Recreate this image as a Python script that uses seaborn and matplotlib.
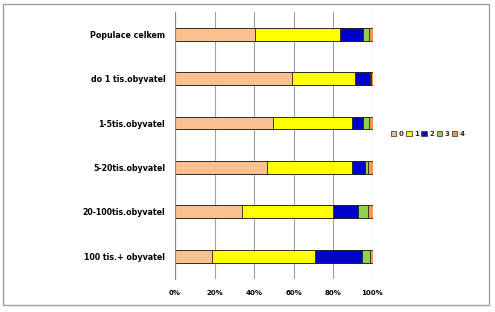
import matplotlib
matplotlib.use("Agg")
import matplotlib.pyplot as plt
import seaborn as sns
import pandas as pd
import numpy as np
from matplotlib.patches import Rectangle, Patch

categories = ["Populace celkem", "do 1 tis.obyvatel", "1-5tis.obyvatel",
              "5-20tis.obyvatel", "20-100tis.obyvatel", "100 tis.+ obyvatel"]
series_names = ["0", "1", "2", "3", "4"]
s0 = [40.7, 59.3, 49.8, 46.6, 34.0, 18.8]
s1 = [42.9, 31.6, 39.8, 43.0, 45.8, 52.3]
s2 = [11.7, 7.8, 5.7, 6.4, 13.1, 23.4]
s3 = [2.7, 0.3, 2.7, 1.7, 4.8, 4.2]
s4 = [2.0, 1.0, 2.0, 2.3, 2.3, 1.3]
x_ticks = [0, 20, 40, 60, 80, 100]
x_tick_labels = ["0%", "20%", "40%", "60%", "80%", "100%"]
colors = ["#FAC090", "#FFFF00", "#0000CC", "#92D050", "#F79646"]

sns.set_theme(style="white")
plt.rcParams['font.family'] = ['DejaVu Sans']

fig = plt.figure(figsize=(4.95, 3.12), dpi=100)
ax = fig.add_axes([175/495, 1-278.5/312, (372.5-175)/495, (278.5-12)/312])

series = [s0, s1, s2, s3, s4]
cum = np.cumsum(np.array(series), axis=0)
df = pd.DataFrame({"cat": categories})
for i in range(len(series) - 1, -1, -1):
    df["v"] = cum[i]
    sns.barplot(data=df, y="cat", x="v", orient="h", color=colors[i],
                width=0.29, edgecolor="#222222", linewidth=0.6,
                saturation=1, ax=ax, order=categories)

ax.set_xlim(0, 100)
ax.set_ylim(len(categories) - 0.5, -0.5)
ax.set_xticks(x_ticks)
ax.set_xticklabels(x_tick_labels, fontsize=5, fontweight="bold")
ax.set_yticks(range(len(categories)))
ax.set_yticklabels(categories, fontsize=6.3, fontweight="bold", fontstretch="condensed")
ax.set_xlabel("")
ax.set_ylabel("")
ax.xaxis.grid(True, color="#A0A0A0", linewidth=0.8)
ax.set_axisbelow(True)
for s in ["top", "right", "bottom"]:
    ax.spines[s].set_visible(False)
ax.spines["left"].set_color("#868686")
ax.spines["left"].set_linewidth(0.8)
ax.tick_params(axis="y", length=0, pad=7, colors="black")
ax.tick_params(axis="x", length=0, pad=8, colors="black")
# minor ticks at category boundaries
ax.set_yticks(np.arange(-0.5, len(categories), 1), minor=True)
ax.tick_params(axis="y", which="minor", length=3, width=0.8, color="#868686", direction="out")

handles = [Patch(facecolor=c, edgecolor="#444444", linewidth=0.6) for c in colors]
leg = fig.legend(handles, series_names, loc="center left", bbox_to_anchor=(386/495, 1-134/312),
                 ncol=5, frameon=False, handlelength=0.8, handleheight=0.8,
                 columnspacing=0.4, handletextpad=0.3, borderpad=0.2,
                 prop={"weight": "bold", "size": 5})

fig.patches.append(Rectangle((3/495, 1-305/312), 486/495, 301/312, transform=fig.transFigure,
                             fill=False, edgecolor="#A0A0A0", linewidth=1.0))
fig.savefig("out.png", dpi=100)
